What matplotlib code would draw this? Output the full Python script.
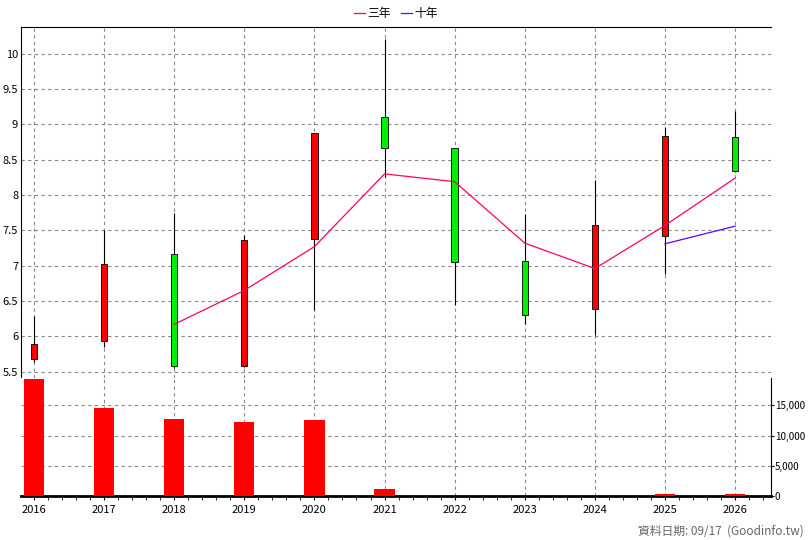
import matplotlib.pyplot as plt
from matplotlib.ticker import FuncFormatter, MultipleLocator

plt.rcParams["font.family"] = ["Noto Sans CJK TC", "DejaVu Sans"]

years = [2016, 2017, 2018, 2019, 2020, 2021, 2022, 2023, 2024, 2025, 2026]
opens = [5.68, 5.94, 7.16, 5.58, 7.38, 9.10, 8.66, 7.06, 6.38, 7.42, 8.82]
closes = [5.89, 7.03, 5.58, 7.37, 8.88, 8.66, 7.05, 6.30, 7.57, 8.83, 8.34]
highs = [6.29, 7.50, 7.75, 7.43, 8.88, 10.21, 8.66, 7.73, 8.22, 8.97, 9.19]
lows = [5.64, 5.85, 5.55, 5.57, 6.37, 8.25, 6.44, 6.17, 6.02, 6.88, 8.32]
ma3 = [None, None, 6.17, 6.65, 7.27, 8.30, 8.19, 7.32, 6.96, 7.57, 8.24]
ma10 = [None] * 9 + [7.31, 7.56]
volume = [19400, 14570, 12750, 12250, 12580, 1160, 0, 0, 0, 250, 400]

fig = plt.figure(figsize=(8.08, 5.40), dpi=100)
ax = fig.add_axes([0.026, 0.30, 0.928, 0.65])
axv = fig.add_axes([0.026, 0.0815, 0.928, 0.2185], sharex=ax)

x = list(range(len(years)))
for i in x:
    up = closes[i] >= opens[i]
    ax.vlines(i, lows[i], highs[i], color="black", linewidth=0.8, zorder=2)
    ax.bar(i, abs(closes[i] - opens[i]), bottom=min(opens[i], closes[i]),
           width=0.09, color="#ff0000" if up else "#00ee00",
           edgecolor="black", linewidth=0.6, zorder=3)

ax.plot(x, [v if v is not None else float("nan") for v in ma3],
        color="#ff0066", linewidth=0.9, label="三年", zorder=4)
ax.plot(x, [v if v is not None else float("nan") for v in ma10],
        color="#6600ff", linewidth=0.9, label="十年", zorder=4)

ax.set_ylim(5.41, 10.38)
ax.yaxis.set_major_locator(MultipleLocator(0.5))
ax.yaxis.set_major_formatter(FuncFormatter(lambda v, p: f"{v:g}"))
ax.tick_params(axis="y", labelsize=8, length=0, pad=2)
ax.tick_params(axis="x", bottom=False, labelbottom=False)
ax.grid(color="#888888", linestyle="--", linewidth=0.8, dashes=(3, 3))
ax.set_axisbelow(True)
for s in ["right", "bottom"]:
    ax.spines[s].set_visible(False)
ax.legend(loc="lower center", bbox_to_anchor=(0.5, 1.0), ncol=2, frameon=False,
          fontsize=8.5, handlelength=1.0, handletextpad=0.2, columnspacing=0.8,
          borderaxespad=0.2)

axv.bar(x, volume, width=0.29, color="#ff0000", zorder=3)
axv.set_ylim(0, 19540)
axv.yaxis.tick_right()
axv.yaxis.set_major_locator(MultipleLocator(5000))
axv.yaxis.set_major_formatter(FuncFormatter(lambda v, p: f"{int(v):,}"))
axv.tick_params(axis="y", labelsize=7, length=2, pad=1)
axv.set_xticks(x)
axv.set_xticklabels([str(y) for y in years], fontsize=8)
axv.set_xticks([i + d for i in x for d in (-0.4, -0.2, 0.2, 0.4)], minor=True)
axv.tick_params(axis="x", which="both", length=3)
axv.grid(color="#888888", linestyle="--", linewidth=0.8, dashes=(3, 3))
axv.set_axisbelow(True)
axv.spines["top"].set_visible(False)
axv.spines["left"].set_visible(False)
axv.spines["bottom"].set_linewidth(2)
axv.set_xlim(-0.185, 10.51)

fig.text(0.995, 0.005, "資料日期: 09/17  (Goodinfo.tw)", ha="right", va="bottom",
         fontsize=8.5, color="#666666")

fig.savefig("out.png", dpi=100)
